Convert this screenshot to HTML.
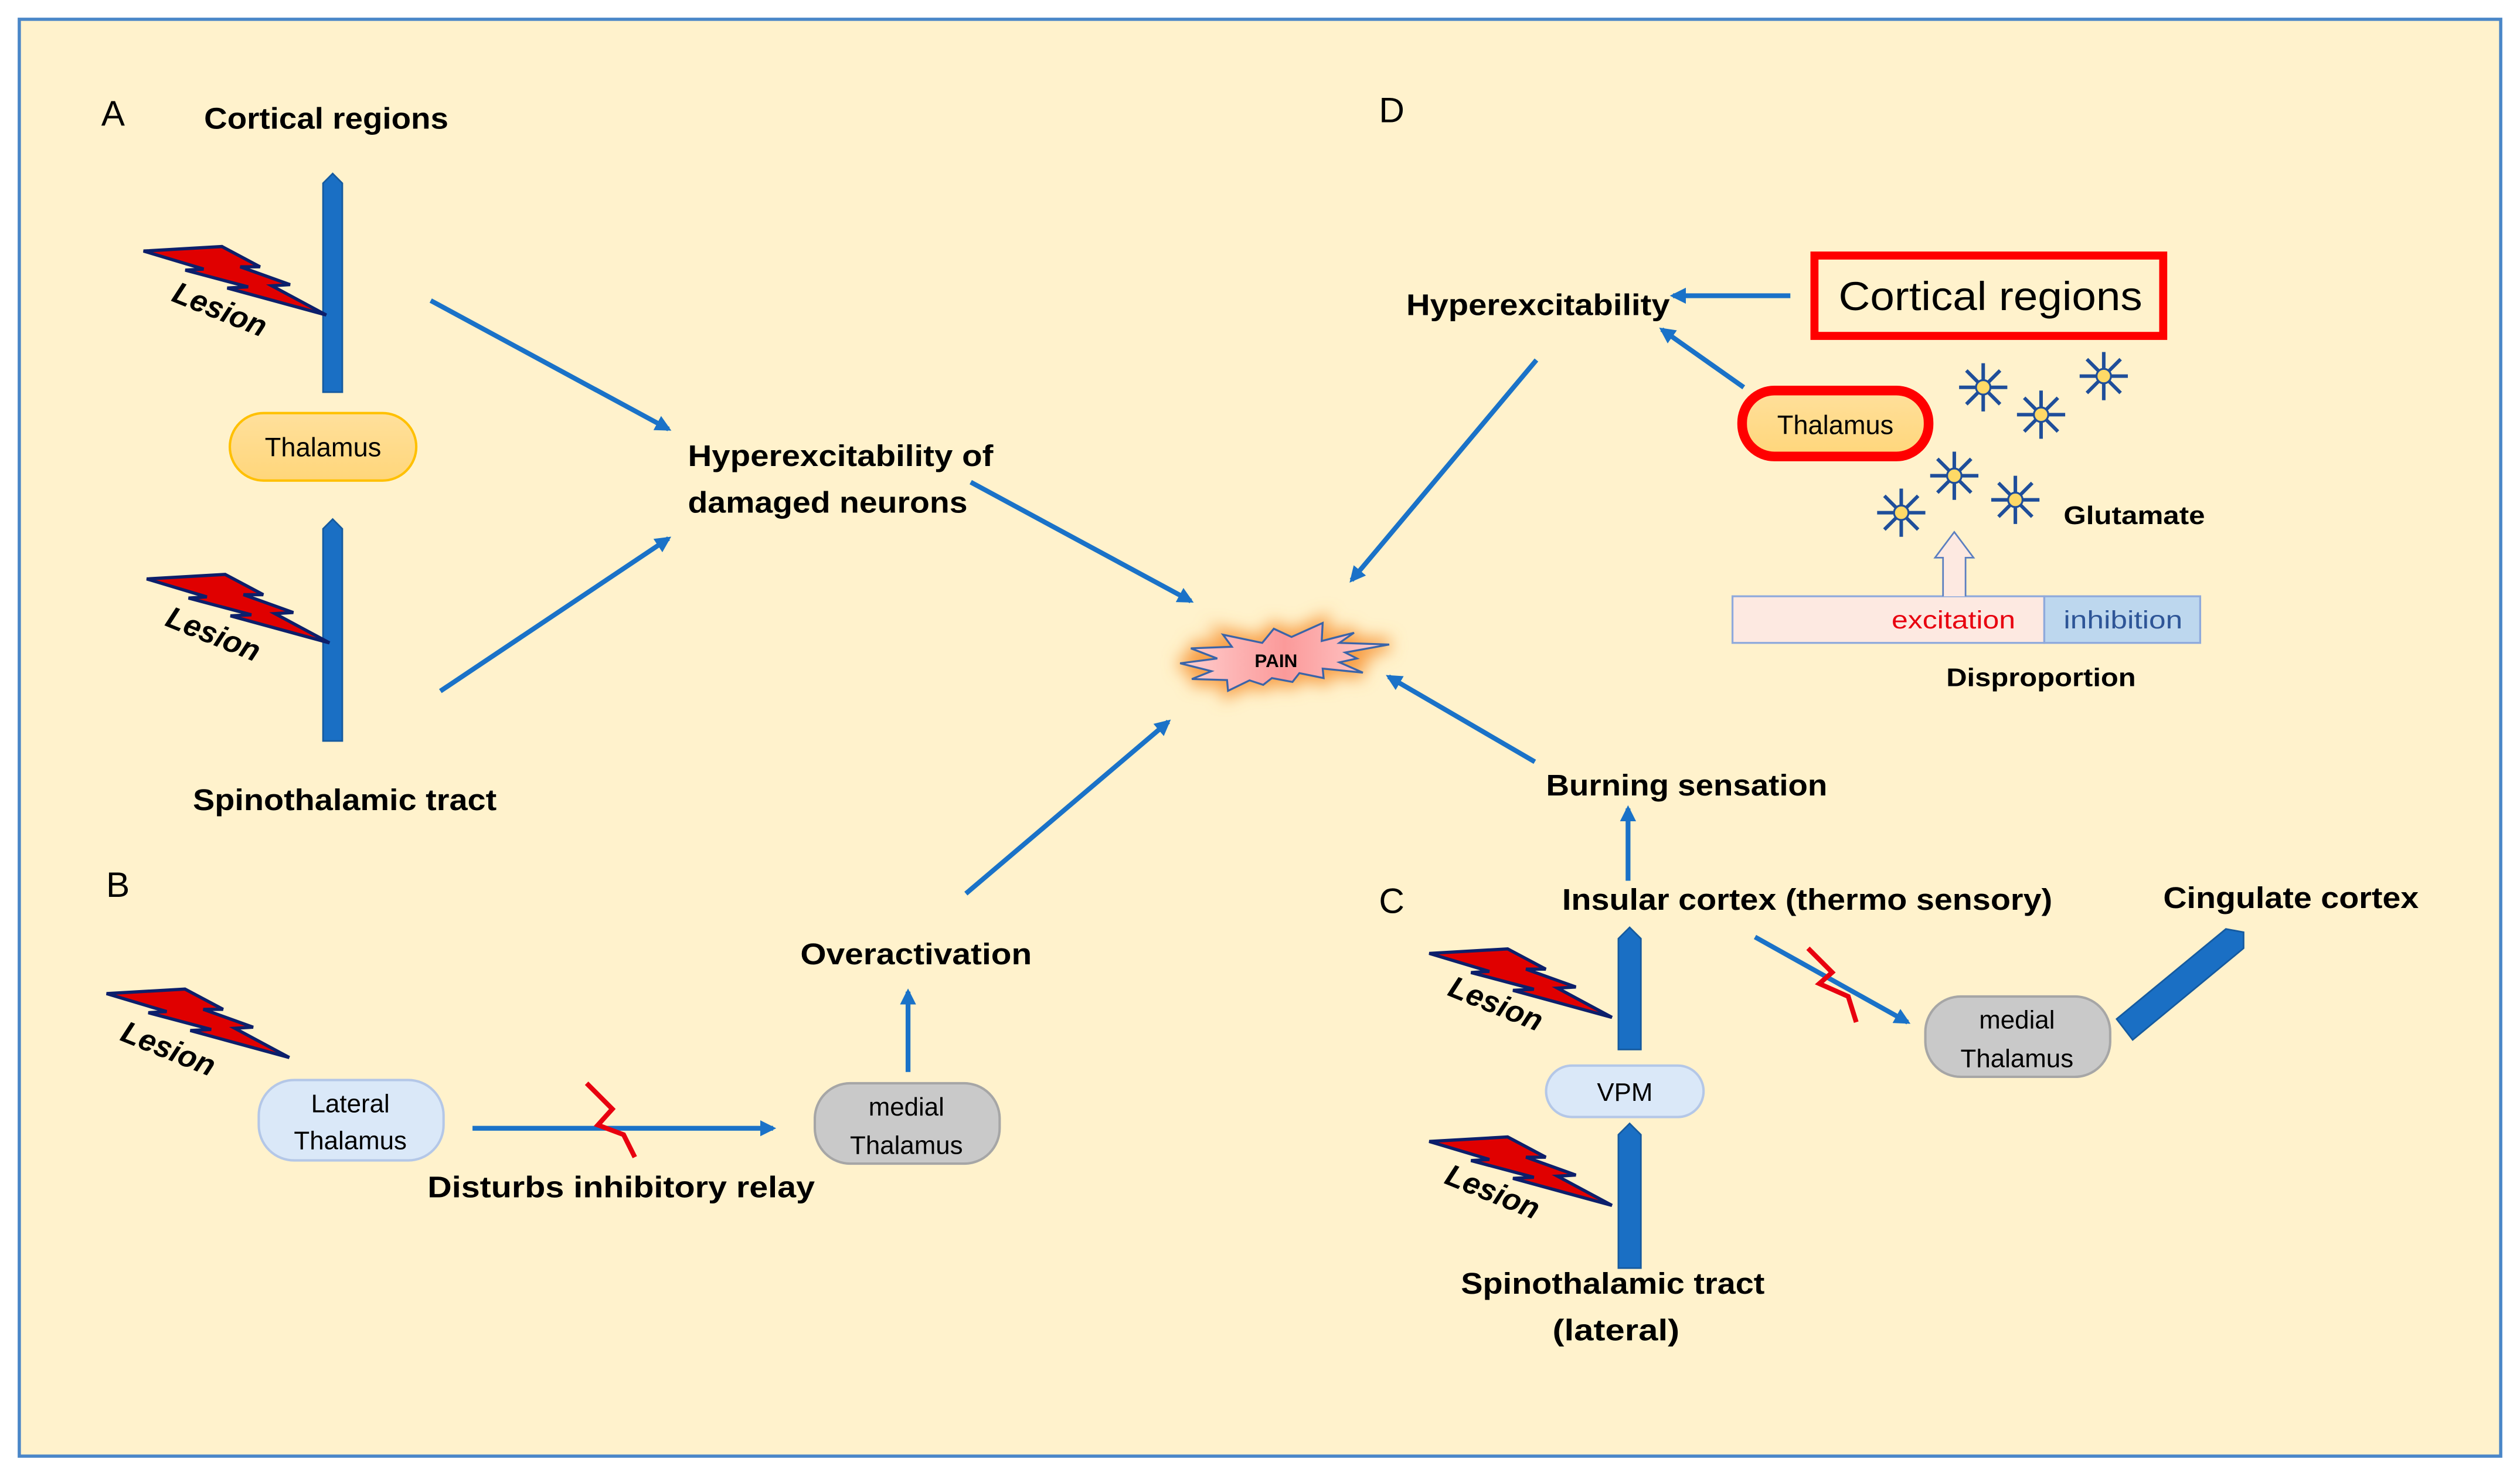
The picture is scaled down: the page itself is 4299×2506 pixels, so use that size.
<!DOCTYPE html>
<html><head><meta charset="utf-8"><style>
html,body{margin:0;padding:0;background:#fff;}
svg{display:block;}
text{font-family:"Liberation Sans",sans-serif;fill:#000;}
.b{font-weight:bold;font-size:18.5px;}
</style></head><body>
<svg width="4299" height="2506" viewBox="0 0 1568 914" preserveAspectRatio="none" xmlns="http://www.w3.org/2000/svg">
<defs>
<marker id="ah" markerWidth="10" markerHeight="10" refX="8" refY="5" orient="auto" markerUnits="userSpaceOnUse">
<path d="M0,0 L10,5 L0,10 Z" fill="#1a72c8"/></marker>
<filter id="glow" x="-30%" y="-80%" width="160%" height="260%"><feGaussianBlur stdDeviation="5"/></filter>
<linearGradient id="pg" x1="0" x2="1"><stop offset="0" stop-color="#ffd0d0"/><stop offset="0.5" stop-color="#fb9a9a"/><stop offset="1" stop-color="#ffd0d0"/></linearGradient>
<linearGradient id="yg" x1="0" y1="0" x2="0" y2="1"><stop offset="0" stop-color="#ffe09c"/><stop offset="1" stop-color="#ffd67a"/></linearGradient>
<g id="bolt"><path d="M-113.7,-39.8 L-64.9,-42.6 L-41.2,-30 L-53.5,-30 L-22.5,-18.9 L-33.9,-18.2 L0,0 L-61.6,-16.8 L-48.6,-17.5 L-87.7,-27.9 L-76.3,-28.6 Z" fill="#e00000" stroke="#0c1f6b" stroke-width="2" stroke-linejoin="miter"/></g>
<g id="star">
<g stroke="#1f4e9a" stroke-width="2.2">
<line x1="0" y1="-15" x2="0" y2="15"/><line x1="-15" y1="0" x2="15" y2="0"/>
<line x1="-10.5" y1="-10.5" x2="10.5" y2="10.5"/><line x1="-10.5" y1="10.5" x2="10.5" y2="-10.5"/></g>
<circle r="4.5" fill="#ffd966" stroke="#1f4e9a" stroke-width="1.2"/></g>
</defs>
<rect x="12" y="12" width="1544" height="894" fill="#fff2cc" stroke="#4a86c8" stroke-width="2"/>

<!-- A -->
<text x="63" y="78" font-size="22">A</text>
<text x="127" y="80" class="b" textLength="152" lengthAdjust="spacingAndGlyphs">Cortical regions</text>
<path d="M201,114 L207,108 L213,114 L213,244 L201,244 Z" fill="#1a6fc4" stroke="#155a9f" stroke-width="1"/>
<use href="#bolt" transform="translate(203,196)"/>
<text x="106" y="187" font-size="19" font-weight="bold" font-style="italic" transform="rotate(22 106 187)">Lesion</text>
<rect x="143" y="257" width="116" height="42" rx="21" fill="url(#yg)" stroke="#ffc000" stroke-width="1.5"/>
<text x="201" y="284" font-size="16.5" text-anchor="middle">Thalamus</text>
<path d="M201,329 L207,323 L213,329 L213,461 L201,461 Z" fill="#1a6fc4" stroke="#155a9f" stroke-width="1"/>
<use href="#bolt" transform="translate(205,400)"/>
<text x="102" y="389" font-size="19" font-weight="bold" font-style="italic" transform="rotate(22 102 389)">Lesion</text>
<text x="120" y="504" class="b" textLength="189" lengthAdjust="spacingAndGlyphs">Spinothalamic tract</text>

<g stroke="#1a72c8" stroke-width="3" fill="none" marker-end="url(#ah)">
<line x1="268" y1="187" x2="416" y2="267"/>
<line x1="274" y1="430" x2="416" y2="335"/>
<line x1="604" y1="300" x2="741" y2="374"/>
<line x1="601" y1="556" x2="727" y2="449"/>
<line x1="294" y1="702" x2="481" y2="702"/>
<line x1="565" y1="667" x2="565" y2="617"/>
<line x1="1114" y1="184" x2="1041" y2="184"/>
<line x1="1085" y1="241" x2="1034" y2="205"/>
<line x1="956" y1="224" x2="841" y2="361"/>
<line x1="955" y1="474" x2="864" y2="421"/>
<line x1="1013" y1="548" x2="1013" y2="503"/>
<line x1="1092" y1="583" x2="1187" y2="636"/>
</g>
<text x="428" y="290" class="b" textLength="190" lengthAdjust="spacingAndGlyphs">Hyperexcitability of</text>
<text x="428" y="319" class="b" textLength="174" lengthAdjust="spacingAndGlyphs">damaged neurons</text>

<!-- PAIN -->
<path d="M734.3,412.7 L757.4,409.7 L741,403.4 L766.5,402.4 L761,394.9 L785.4,400 L792.6,391.2 L803.6,396.3 L823,387.6 L822.4,398.8 L842.5,393.7 L833.4,400 L864.4,401 L837,406 L844.3,409.7 L833.4,412.1 L848,418.5 L823,416 L823.6,421.9 L808.5,418.8 L804.2,424.3 L791.4,421.9 L786,426.1 L777.5,423.3 L764.1,429.8 L763.5,423.1 L741.6,422.5 L753.8,417.6 Z" fill="#f8a04a" stroke="#f8a04a" stroke-width="8" filter="url(#glow)"/>
<path d="M734.3,412.7 L757.4,409.7 L741,403.4 L766.5,402.4 L761,394.9 L785.4,400 L792.6,391.2 L803.6,396.3 L823,387.6 L822.4,398.8 L842.5,393.7 L833.4,400 L864.4,401 L837,406 L844.3,409.7 L833.4,412.1 L848,418.5 L823,416 L823.6,421.9 L808.5,418.8 L804.2,424.3 L791.4,421.9 L786,426.1 L777.5,423.3 L764.1,429.8 L763.5,423.1 L741.6,422.5 L753.8,417.6 Z" fill="url(#pg)" stroke="#3a64a8" stroke-width="1.2"/>
<text x="794" y="415" font-size="11.5" font-weight="bold" text-anchor="middle">PAIN</text>

<!-- B -->
<text x="66" y="558" font-size="22">B</text>
<use href="#bolt" transform="translate(180,658)"/>
<text x="74" y="647" font-size="19" font-weight="bold" font-style="italic" transform="rotate(22 74 647)">Lesion</text>
<rect x="161" y="672" width="115" height="50" rx="22" fill="#dae8f8" stroke="#b4c7e7" stroke-width="1.5"/>
<text x="218" y="692" font-size="16" text-anchor="middle">Lateral</text>
<text x="218" y="715" font-size="16" text-anchor="middle">Thalamus</text>
<path d="M365,674 L381,690 L372,700 L388,706 L395,720" fill="none" stroke="#e8000f" stroke-width="3"/>
<text x="266" y="745" class="b" textLength="241" lengthAdjust="spacingAndGlyphs">Disturbs  inhibitory relay</text>
<rect x="507" y="674" width="115" height="50" rx="22" fill="#c9c9c9" stroke="#a6a6a6" stroke-width="1.5"/>
<text x="564" y="694" font-size="16" text-anchor="middle">medial</text>
<text x="564" y="718" font-size="16" text-anchor="middle">Thalamus</text>
<text x="498" y="600" class="b" textLength="144" lengthAdjust="spacingAndGlyphs">Overactivation</text>

<!-- D -->
<text x="858" y="76" font-size="22">D</text>
<text x="875" y="196" class="b" textLength="164" lengthAdjust="spacingAndGlyphs">Hyperexcitability</text>
<rect x="1129" y="159" width="217" height="50" fill="none" stroke="#ff0000" stroke-width="5"/>
<text x="1144" y="193" font-size="25" textLength="189" lengthAdjust="spacingAndGlyphs">Cortical regions</text>
<rect x="1084" y="243" width="116" height="41" rx="20" fill="url(#yg)" stroke="#ff0000" stroke-width="6"/>
<text x="1142" y="270" font-size="16.5" text-anchor="middle">Thalamus</text>
<use href="#star" transform="translate(1234,241)"/>
<use href="#star" transform="translate(1270,258)"/>
<use href="#star" transform="translate(1309,234)"/>
<use href="#star" transform="translate(1216,296)"/>
<use href="#star" transform="translate(1254,311)"/>
<use href="#star" transform="translate(1183,319)"/>
<text x="1284" y="326" font-size="16" font-weight="bold" textLength="88" lengthAdjust="spacingAndGlyphs">Glutamate</text>
<rect x="1078" y="371" width="194" height="29" fill="#fde9e1" stroke="#8faadc" stroke-width="1.2"/>
<rect x="1272" y="371" width="97" height="29" fill="#bdd7ee" stroke="#8faadc" stroke-width="1.2"/>
<path d="M1209,371 L1209,347 L1204,347 L1216,331 L1228,347 L1223,347 L1223,371" fill="#fde9e1" stroke="#5b7fc0" stroke-width="1"/>
<text x="1177" y="391" font-size="15.5" textLength="77" lengthAdjust="spacingAndGlyphs" style="fill:#e8000f">excitation</text>
<text x="1284" y="391" font-size="15.5" textLength="74" lengthAdjust="spacingAndGlyphs" style="fill:#2e5597">inhibition</text>
<text x="1211" y="427" font-size="16" font-weight="bold" textLength="118" lengthAdjust="spacingAndGlyphs">Disproportion</text>

<!-- C -->
<text x="962" y="495" class="b" textLength="175" lengthAdjust="spacingAndGlyphs">Burning sensation</text>
<text x="858" y="568" font-size="22">C</text>
<text x="972" y="566" class="b" textLength="305" lengthAdjust="spacingAndGlyphs">Insular cortex (thermo sensory)</text>
<path d="M1007,584 L1014,577 L1021,584 L1021,653 L1007,653 Z" fill="#1a6fc4" stroke="#155a9f" stroke-width="1"/>
<use href="#bolt" transform="translate(1003,633)"/>
<text x="900" y="619" font-size="19" font-weight="bold" font-style="italic" transform="rotate(22 900 619)">Lesion</text>
<rect x="962" y="663" width="98" height="32" rx="16" fill="#dae8f8" stroke="#b4c7e7" stroke-width="1.5"/>
<text x="1011" y="685" font-size="16" text-anchor="middle">VPM</text>
<path d="M1007,706 L1014,699 L1021,706 L1021,789 L1007,789 Z" fill="#1a6fc4" stroke="#155a9f" stroke-width="1"/>
<use href="#bolt" transform="translate(1003,750)"/>
<text x="898" y="736" font-size="19" font-weight="bold" font-style="italic" transform="rotate(22 898 736)">Lesion</text>
<text x="909" y="805" class="b" textLength="189" lengthAdjust="spacingAndGlyphs">Spinothalamic tract</text>
<text x="966" y="834" class="b" textLength="79" lengthAdjust="spacingAndGlyphs">(lateral)</text>
<path d="M1125,590 L1140,605 L1132,612 L1150,620 L1155,636" fill="none" stroke="#e8000f" stroke-width="3"/>
<rect x="1198" y="620" width="115" height="50" rx="22" fill="#c9c9c9" stroke="#a6a6a6" stroke-width="1.5"/>
<text x="1255" y="640" font-size="16" text-anchor="middle">medial</text>
<text x="1255" y="664" font-size="16" text-anchor="middle">Thalamus</text>
<text x="1346" y="565" class="b" textLength="159" lengthAdjust="spacingAndGlyphs">Cingulate cortex</text>
<path d="M1317,634 L1385,578 L1396,580 L1396,590 L1327,647 Z" fill="#1a6fc4" stroke="#155a9f" stroke-width="1"/>
</svg>
</body></html>
